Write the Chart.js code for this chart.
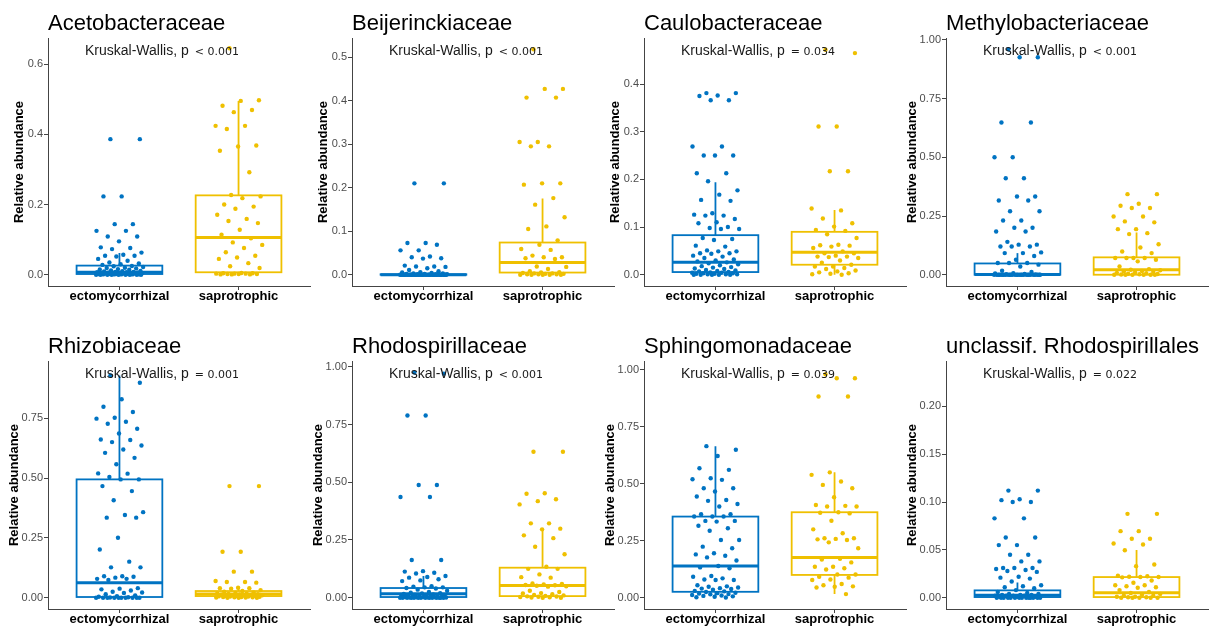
<!DOCTYPE html>
<html>
<head>
<meta charset="utf-8">
<script src="https://cdn.jsdelivr.net/npm/chart.js@4.4.1/dist/chart.umd.min.js"></script>
<style>
  html, body { margin: 0; padding: 0; background: #fff; overflow: hidden; }
  #wrap { position: relative; width: 1210px; height: 627px; }
  #wrap canvas { position: absolute; }
</style>
</head>
<body>
<div id="wrap"></div>
<script>
const groups = ["ectomycorrhizal", "saprotrophic"];
const groupColors = ["#0073C2", "#EFC000"];

const families = [
  "Acetobacteraceae", "Beijerinckiaceae", "Caulobacteraceae", "Methylobacteriaceae",
  "Rhizobiaceae", "Rhodospirillaceae", "Sphingomonadaceae", "unclassif. Rhodospirillales"
];
const pTests = ["< 0.001", "< 0.001", "= 0.034", "< 0.001", "= 0.001", "< 0.001", "= 0.039", "= 0.022"];

// largest value reached by each y axis data range
const yTop = [0.642, 0.518, 0.473, 0.96, 0.943, 0.976, 0.989, 0.2357];

const yTickLabels = [
  ["0.0", "0.2", "0.4", "0.6"],
  ["0.0", "0.1", "0.2", "0.3", "0.4", "0.5"],
  ["0.0", "0.1", "0.2", "0.3", "0.4"],
  ["0.00", "0.25", "0.50", "0.75", "1.00"],
  ["0.00", "0.25", "0.50", "0.75"],
  ["0.00", "0.25", "0.50", "0.75", "1.00"],
  ["0.00", "0.25", "0.50", "0.75", "1.00"],
  ["0.00", "0.05", "0.10", "0.15", "0.20"]
];

// relative abundance per sample, ectomycorrhizal
const ectoValues = [
  [0.386, 0.386, 0.223, 0.223, 0.144, 0.144, 0.125, 0.125, 0.109, 0.109, 0.095, 0.078, 0.076, 0.073, 0.063, 0.057, 0.054, 0.054, 0.052, 0.045, 0.040, 0.035, 0.032, 0.030, 0.028, 0.025, 0.024, 0.022, 0.020, 0.019, 0.018, 0.016, 0.015, 0.014, 0.012, 0.011, 0.010, 0.009, 0.008, 0.008, 0.007, 0.007, 0.006, 0.006, 0.005, 0.005, 0.004, 0.004, 0.004, 0.003, 0.003, 0.003, 0.002, 0.002, 0.002, 0.002, 0.001, 0.001, 0.001, 0.001, 0.001, 0, 0, 0, 0, 0, 0, 0, 0, 0],
  [0.21, 0.21, 0.073, 0.073, 0.069, 0.056, 0.056, 0.042, 0.040, 0.038, 0.037, 0.021, 0.019, 0.019, 0.018, 0.015, 0.011, 0.008, 0.006, 0.005, 0.004, 0.003, 0.003, 0.002, 0.002, 0.001, 0.001, 0.001, 0, 0, 0, 0, 0, 0, 0, 0, 0, 0, 0, 0, 0, 0, 0, 0, 0, 0, 0, 0, 0, 0, 0, 0, 0, 0, 0, 0, 0, 0, 0, 0, 0, 0, 0, 0, 0, 0, 0, 0, 0, 0],
  [0.381, 0.381, 0.376, 0.375, 0.366, 0.366, 0.269, 0.269, 0.25, 0.25, 0.25, 0.213, 0.213, 0.196, 0.177, 0.168, 0.157, 0.155, 0.129, 0.126, 0.124, 0.124, 0.117, 0.110, 0.108, 0.100, 0.098, 0.096, 0.096, 0.077, 0.075, 0.073, 0.061, 0.059, 0.051, 0.049, 0.049, 0.045, 0.045, 0.044, 0.040, 0.038, 0.035, 0.032, 0.030, 0.028, 0.026, 0.024, 0.022, 0.020, 0.018, 0.016, 0.015, 0.013, 0.012, 0.010, 0.009, 0.008, 0.007, 0.006, 0.005, 0.004, 0.004, 0.003, 0.003, 0.002, 0.002, 0.001, 0.001, 0.001, 0, 0, 0, 0, 0],
  [0.96, 0.926, 0.926, 0.648, 0.648, 0.5, 0.5, 0.411, 0.411, 0.333, 0.333, 0.316, 0.316, 0.27, 0.27, 0.231, 0.231, 0.2, 0.2, 0.184, 0.184, 0.14, 0.128, 0.128, 0.12, 0.12, 0.12, 0.095, 0.092, 0.092, 0.08, 0.064, 0.05, 0.05, 0.05, 0.043, 0.035, 0.017, 0.012, 0.007, 0.005, 0.003, 0.002, 0.001, 0, 0, 0, 0, 0, 0, 0, 0, 0, 0, 0, 0, 0, 0, 0, 0, 0, 0, 0, 0, 0, 0, 0, 0, 0, 0, 0, 0],
  [0.93, 0.899, 0.83, 0.799, 0.777, 0.753, 0.749, 0.736, 0.728, 0.707, 0.687, 0.662, 0.66, 0.651, 0.637, 0.62, 0.606, 0.585, 0.558, 0.52, 0.519, 0.505, 0.495, 0.495, 0.467, 0.446, 0.408, 0.358, 0.346, 0.335, 0.335, 0.251, 0.202, 0.151, 0.127, 0.127, 0.09, 0.09, 0.088, 0.084, 0.079, 0.079, 0.074, 0.04, 0.038, 0.035, 0.030, 0.025, 0.022, 0.020, 0.015, 0.010, 0.006, 0.004, 0.002, 0.001, 0, 0, 0, 0, 0, 0, 0, 0, 0, 0],
  [0.975, 0.97, 0.789, 0.789, 0.488, 0.488, 0.436, 0.436, 0.163, 0.163, 0.115, 0.113, 0.108, 0.105, 0.094, 0.09, 0.087, 0.08, 0.075, 0.072, 0.05, 0.048, 0.045, 0.045, 0.042, 0.040, 0.035, 0.030, 0.025, 0.022, 0.020, 0.018, 0.016, 0.014, 0.012, 0.011, 0.010, 0.009, 0.008, 0.007, 0.006, 0.005, 0.004, 0.004, 0.003, 0.003, 0.002, 0.002, 0.001, 0.001, 0.001, 0, 0, 0, 0, 0, 0, 0, 0, 0, 0, 0, 0, 0, 0],
  [0.665, 0.649, 0.622, 0.568, 0.561, 0.524, 0.52, 0.517, 0.48, 0.48, 0.466, 0.444, 0.429, 0.425, 0.411, 0.4, 0.366, 0.366, 0.356, 0.356, 0.356, 0.337, 0.337, 0.334, 0.316, 0.305, 0.294, 0.253, 0.253, 0.224, 0.217, 0.195, 0.19, 0.184, 0.177, 0.163, 0.139, 0.133, 0.129, 0.095, 0.092, 0.085, 0.08, 0.078, 0.078, 0.055, 0.05, 0.048, 0.045, 0.042, 0.04, 0.038, 0.035, 0.03, 0.028, 0.025, 0.022, 0.02, 0.018, 0.016, 0.015, 0.012, 0.01, 0.008, 0.006, 0.004, 0.002, 0.001],
  [0.112, 0.112, 0.103, 0.102, 0.1, 0.1, 0.083, 0.083, 0.063, 0.063, 0.055, 0.055, 0.045, 0.045, 0.038, 0.038, 0.031, 0.031, 0.031, 0.03, 0.029, 0.028, 0.027, 0.022, 0.021, 0.02, 0.017, 0.013, 0.012, 0.011, 0.01, 0.008, 0.006, 0.005, 0.004, 0.004, 0.003, 0.003, 0.003, 0.002, 0.002, 0.002, 0.002, 0.001, 0.001, 0.001, 0, 0, 0, 0, 0, 0, 0, 0, 0, 0, 0, 0, 0, 0]
];

// relative abundance per sample, saprotrophic
const saproValues = [
  [0.645, 0.497, 0.495, 0.481, 0.469, 0.463, 0.424, 0.424, 0.415, 0.368, 0.365, 0.353, 0.292, 0.227, 0.223, 0.218, 0.200, 0.194, 0.188, 0.171, 0.159, 0.153, 0.147, 0.128, 0.114, 0.104, 0.092, 0.085, 0.076, 0.064, 0.054, 0.049, 0.045, 0.033, 0.024, 0.019, 0.005, 0.004, 0.004, 0.003, 0.003, 0.003, 0.002, 0.002, 0.002, 0.001, 0.001, 0.001],
  [0.518, 0.427, 0.427, 0.407, 0.407, 0.305, 0.305, 0.295, 0.295, 0.21, 0.21, 0.207, 0.176, 0.161, 0.132, 0.111, 0.105, 0.079, 0.069, 0.059, 0.057, 0.044, 0.040, 0.040, 0.038, 0.036, 0.019, 0.018, 0.013, 0.008, 0.006, 0.005, 0.004, 0.003, 0.003, 0.002, 0.002, 0.001, 0.001, 0.001, 0, 0, 0, 0, 0],
  [0.472, 0.465, 0.311, 0.311, 0.217, 0.217, 0.139, 0.135, 0.118, 0.108, 0.101, 0.094, 0.092, 0.085, 0.077, 0.063, 0.062, 0.061, 0.059, 0.056, 0.049, 0.045, 0.045, 0.040, 0.038, 0.038, 0.037, 0.035, 0.030, 0.025, 0.021, 0.017, 0.017, 0.014, 0.012, 0.009, 0.007, 0.005, 0.003, 0.002, 0.001, 0],
  [0.343, 0.343, 0.302, 0.294, 0.284, 0.284, 0.248, 0.248, 0.227, 0.223, 0.194, 0.194, 0.177, 0.173, 0.13, 0.116, 0.099, 0.092, 0.071, 0.071, 0.071, 0.071, 0.064, 0.057, 0.035, 0.024, 0.021, 0.019, 0.016, 0.014, 0.012, 0.010, 0.008, 0.006, 0.004, 0.003, 0.002, 0.001, 0, 0, 0, 0, 0, 0],
  [0.467, 0.467, 0.192, 0.192, 0.109, 0.109, 0.07, 0.066, 0.066, 0.063, 0.042, 0.04, 0.04, 0.038, 0.032, 0.028, 0.025, 0.022, 0.02, 0.018, 0.017, 0.016, 0.015, 0.014, 0.013, 0.012, 0.011, 0.01, 0.009, 0.008, 0.008, 0.007, 0.006, 0.005, 0.005, 0.004, 0.003, 0.003, 0.002, 0.002, 0.001, 0.001, 0, 0, 0],
  [0.632, 0.632, 0.452, 0.45, 0.426, 0.418, 0.404, 0.322, 0.322, 0.299, 0.296, 0.27, 0.258, 0.221, 0.188, 0.134, 0.125, 0.125, 0.101, 0.089, 0.087, 0.062, 0.06, 0.058, 0.055, 0.054, 0.052, 0.05, 0.048, 0.03, 0.025, 0.02, 0.018, 0.015, 0.012, 0.01, 0.008, 0.006, 0.005, 0.004, 0.003, 0.002, 0.001, 0, 0],
  [0.98, 0.963, 0.963, 0.883, 0.883, 0.55, 0.539, 0.51, 0.495, 0.48, 0.441, 0.407, 0.403, 0.4, 0.4, 0.375, 0.373, 0.37, 0.338, 0.3, 0.283, 0.261, 0.261, 0.258, 0.256, 0.253, 0.243, 0.217, 0.171, 0.168, 0.155, 0.136, 0.136, 0.129, 0.124, 0.102, 0.102, 0.092, 0.088, 0.08, 0.078, 0.06, 0.055, 0.05, 0.048, 0.045, 0.016],
  [0.0877, 0.0877, 0.0696, 0.0696, 0.0616, 0.0616, 0.0567, 0.0557, 0.0497, 0.0348, 0.033, 0.023, 0.0225, 0.0219, 0.0216, 0.0216, 0.0213, 0.018, 0.0157, 0.013, 0.013, 0.012, 0.011, 0.0104, 0.008, 0.006, 0.005, 0.004, 0.003, 0.002, 0.002, 0.001, 0.001, 0.0005, 0.0005, 0, 0, 0, 0, 0]
];

// box statistics: [lower whisker, Q1, median, Q3, upper whisker]
const ectoBox = [
  [0, 0.002, 0.007, 0.026, 0.062],
  [0, 0, 0, 0.001, 0.002],
  [0, 0.0056, 0.026, 0.083, 0.194],
  [0, 0, 0.001, 0.048, 0.092],
  [0, 0.003, 0.063, 0.495, 0.93],
  [0, 0.003, 0.017, 0.042, 0.094],
  [0, 0.026, 0.139, 0.356, 0.665],
  [0, 0.0007, 0.0025, 0.0077, 0.016]
];
const saproBox = [
  [0, 0.007, 0.106, 0.226, 0.495],
  [0, 0.005, 0.028, 0.074, 0.175],
  [0, 0.021, 0.047, 0.09, 0.136],
  [0, 0, 0.021, 0.074, 0.18],
  [0, 0.007, 0.016, 0.028, 0.042],
  [0, 0.007, 0.053, 0.13, 0.3],
  [0.016, 0.1, 0.177, 0.375, 0.55],
  [0, 0.0007, 0.0052, 0.0216, 0.05]
];

const panelLeft = [0, 304, 596, 898];
const panelTop = [0, 323];
const boxWidth = 0.72;
const axisColor = "#444";

Chart.defaults.font.family = "'Liberation Sans', Arial, sans-serif";

// spread points sideways around their group
function jitter(i) {
  return (((i * 0.6180339887 + 0.31) % 1) - 0.5) * 0.4;
}

const boxPlot = {
  id: "boxPlot",
  beforeDatasetsDraw(chart, args, opts) {
    const { ctx, scales: { x, y } } = chart;
    opts.stats.forEach((s, g) => {
      const [lo, q1, med, q3, hi] = s;
      const cx = x.getPixelForValue(g + 1);
      const half = x.getPixelForValue(g + 1 + boxWidth / 2) - cx;
      ctx.save();
      ctx.strokeStyle = groupColors[g];
      ctx.lineWidth = 1.8;
      ctx.beginPath();
      ctx.moveTo(cx, y.getPixelForValue(q3));
      ctx.lineTo(cx, y.getPixelForValue(hi));
      ctx.moveTo(cx, y.getPixelForValue(q1));
      ctx.lineTo(cx, y.getPixelForValue(lo));
      ctx.stroke();
      const top = y.getPixelForValue(q3);
      const bottom = y.getPixelForValue(q1);
      ctx.strokeRect(cx - half, top, half * 2, bottom - top);
      ctx.lineWidth = 3;
      ctx.beginPath();
      ctx.moveTo(cx - half, y.getPixelForValue(med));
      ctx.lineTo(cx + half, y.getPixelForValue(med));
      ctx.stroke();
      ctx.restore();
    });
  }
};

const panelText = {
  id: "panelText",
  afterDraw(chart, args, opts) {
    const { ctx, chartArea } = chart;
    ctx.save();
    ctx.textBaseline = "alphabetic";
    ctx.textAlign = "left";
    ctx.fillStyle = "#000";
    ctx.font = "22px 'Liberation Sans', Arial, sans-serif";
    ctx.fillText(opts.title, chartArea.left, 30);

    const x0 = chartArea.left + 37;
    ctx.fillStyle = "#1a1a1a";
    ctx.font = "14px 'Liberation Sans', Arial, sans-serif";
    const lead = "Kruskal-Wallis, p";
    ctx.fillText(lead, x0, 55);
    const w = ctx.measureText(lead).width;
    ctx.font = "11px 'DejaVu Sans', sans-serif";
    ctx.fillText(opts.p, x0 + w + 6, 55);
    ctx.restore();
  }
};

const wrap = document.getElementById("wrap");

families.forEach((name, i) => {
  const canvas = document.createElement("canvas");
  canvas.width = 314;
  canvas.height = 310;
  canvas.style.left = panelLeft[i % 4] + "px";
  canvas.style.top = panelTop[Math.floor(i / 4)] + "px";
  wrap.appendChild(canvas);

  const labels = yTickLabels[i];
  const top = yTop[i];
  // wider tick labels push the axis title further out
  const titlePad = 12 - 5 * (labels[0].length - 3);

  const datasets = [ectoValues[i], saproValues[i]].map((vals, g) => ({
    data: vals.map((v, k) => ({ x: g + 1 + jitter(k), y: v })),
    pointRadius: 2.2,
    pointBorderWidth: 0,
    pointBackgroundColor: groupColors[g],
    showLine: false
  }));

  new Chart(canvas, {
    type: "scatter",
    data: { datasets },
    options: {
      responsive: false,
      animation: false,
      devicePixelRatio: 1,
      layout: { padding: { top: 38, left: 0, right: 0, bottom: 0 } },
      plugins: {
        legend: { display: false },
        tooltip: { enabled: false },
        boxPlot: { stats: [ectoBox[i], saproBox[i]] },
        panelText: { title: name, p: pTests[i] }
      },
      scales: {
        x: {
          type: "linear",
          min: 0.4,
          max: 2.6,
          afterBuildTicks: (s) => { s.ticks = [{ value: 1 }, { value: 2 }]; },
          afterFit: (s) => { s.height = 24; },
          grid: { drawOnChartArea: false, drawTicks: true, tickLength: 4, color: axisColor },
          border: { display: true, color: axisColor, width: 1 },
          ticks: {
            padding: -1,
            color: "#000",
            autoSkip: false,
            maxRotation: 0,
            font: { size: 13, weight: "bold" },
            callback: (v) => groups[v - 1]
          }
        },
        y: {
          type: "linear",
          min: -0.05 * top,
          max: 1.05 * top,
          afterBuildTicks: (s) => { s.ticks = labels.map((l) => ({ value: Number(l) })); },
          afterFit: (s) => { s.width = 48; },
          grid: { drawOnChartArea: false, drawTicks: true, tickLength: 4, color: axisColor },
          border: { display: true, color: axisColor, width: 1 },
          ticks: {
            padding: 1,
            color: "#4d4d4d",
            font: { size: 11 },
            callback: (v, k) => labels[k]
          },
          title: {
            display: true,
            text: "Relative abundance",
            color: "#000",
            font: { size: 13, weight: "bold" },
            padding: { top: titlePad, bottom: 0 }
          }
        }
      }
    },
    plugins: [boxPlot, panelText]
  });
});
</script>
</body>
</html>
